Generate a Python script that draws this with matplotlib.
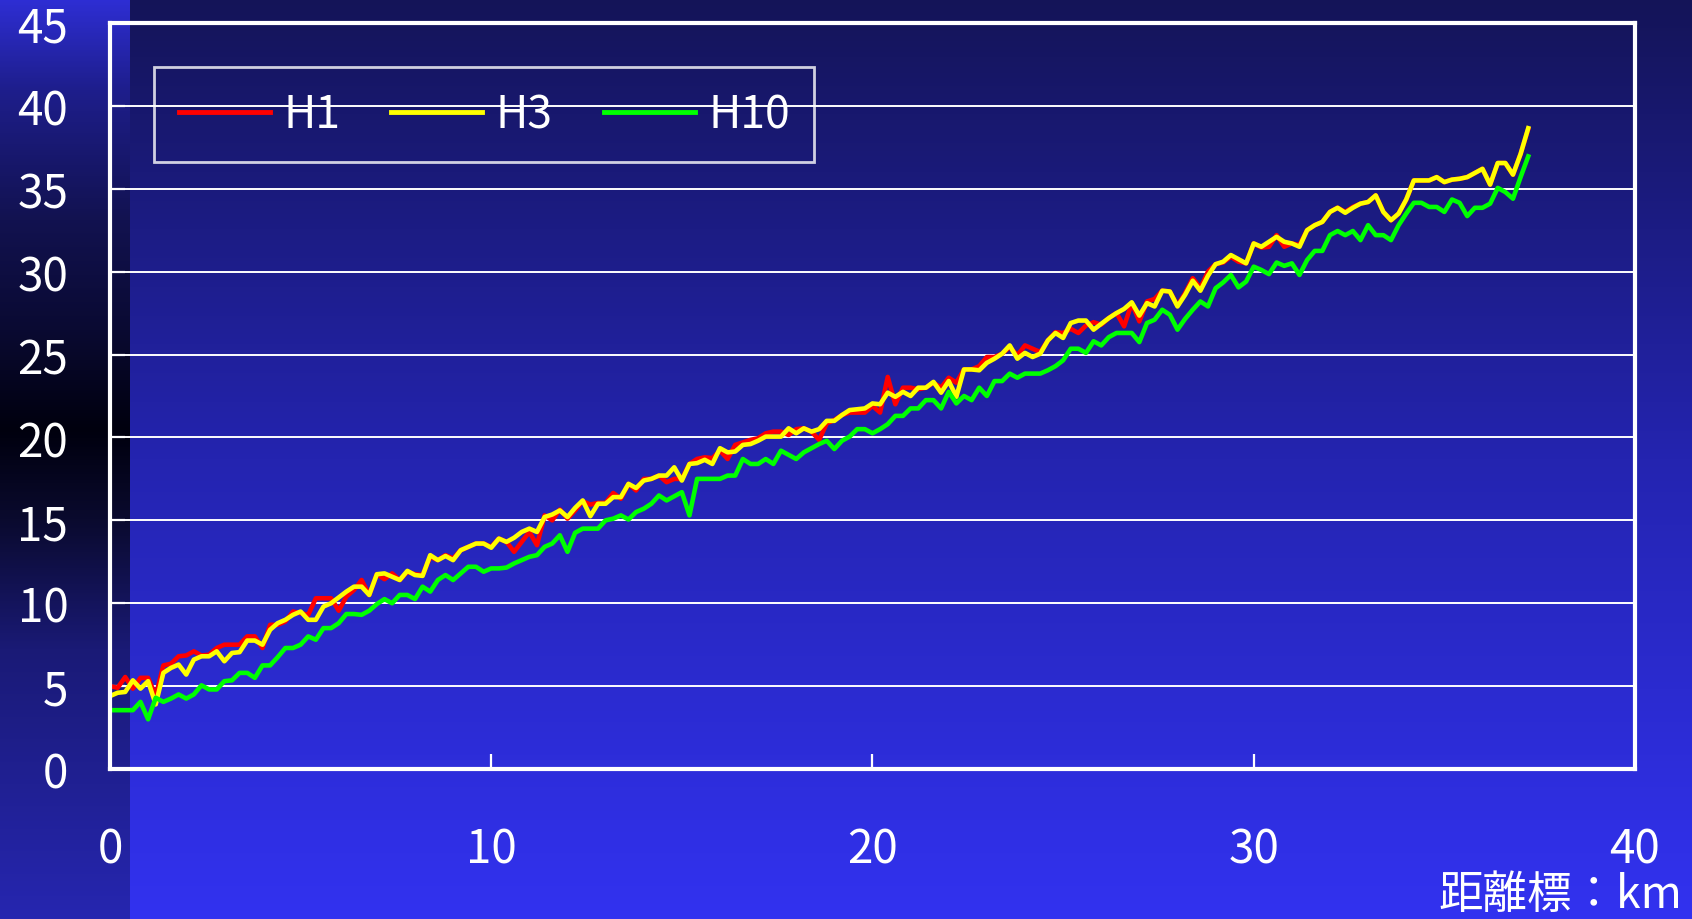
import numpy as np
import matplotlib
matplotlib.use("Agg")
import matplotlib.pyplot as plt

plt.rcParams['font.family'] = ['Noto Sans CJK JP', 'DejaVu Sans']

# 距離標 (km), 0.2 km 間隔
dist = np.round(np.arange(0, 37.21, 0.2), 1)

h1 = [5.0, 4.9, 5.55, 4.85, 5.5, 5.5, 4.4, 6.25, 6.35, 6.8, 6.85, 7.1, 6.85, 6.9, 7.3, 7.5, 7.5,
      7.5, 8.0, 8.0, 7.3, 8.7, 8.7, 8.9, 9.5, 9.4, 9.3, 10.3, 10.3, 10.3, 9.55, 10.4, 10.8,
      11.4, 10.5, 11.75, 11.45, 11.8, 11.4, 11.9, 11.75, 11.7, 12.8, 12.6, 12.9, 12.7, 13.2, 13.4,
      13.6, 13.6, 13.4, 13.9, 13.7, 13.1, 13.7, 14.3, 13.5, 15.3, 15.0, 15.65, 15.1, 15.6, 16.15,
      15.95, 16.05, 16.05, 16.65,
      16.3, 17.2, 16.8, 17.5, 17.5, 17.7, 17.3, 17.5, 17.5, 18.4, 18.7, 18.8, 18.75, 19.2, 18.7,
      19.55, 19.7, 19.85, 19.95, 20.25, 20.35, 20.35, 20.15, 20.5, 20.55, 20.35, 19.85, 20.85,
      21.05, 21.35, 21.5, 21.5, 21.5,
      21.9, 21.5, 23.65, 22.0, 23.0, 23.0, 22.9, 23.0, 23.3, 23.0, 23.6, 23.3, 24.1, 24.1, 24.3,
      24.85, 24.85, 25.05, 25.45, 24.95, 25.55, 25.35, 25.15, 25.85, 26.35, 26.3, 26.55, 26.3,
      26.75, 26.95, 26.8, 27.2, 27.5,
      26.7, 28.1, 27.0, 28.2, 28.35, 28.85, 28.8, 27.95, 28.7, 29.6, 29.0, 30.0, 30.45, 30.55,
      30.9, 30.6, 30.5, 31.7, 31.45, 31.5, 32.2, 31.5, 31.7, 31.6, 32.5, 32.8, 33.0, 33.6, 33.85,
      33.6, 33.9, 34.1,
      34.2, 34.6, 33.6, 33.1, 33.5, 34.35, 35.5, 35.5, 35.5, 35.7, 35.4, 35.55, 35.6, 35.7, 35.95,
      36.2, 35.25, 36.55, 36.55, 35.85, 37.1, 38.6]

h3 = [4.4, 4.6, 4.65, 5.35, 4.85, 5.3, 3.9, 5.8, 6.1, 6.3, 5.7, 6.6, 6.8, 6.8, 7.1, 6.5, 7.0,
      7.05, 7.75, 7.75, 7.5, 8.4, 8.8, 9.0, 9.3, 9.5, 9.0, 9.0, 9.8, 10.0, 10.35, 10.7, 11.0,
      11.0, 10.5, 11.75, 11.8, 11.6, 11.4, 11.95, 11.7, 11.65, 12.9, 12.6, 12.85, 12.6, 13.2, 13.4,
      13.6, 13.6, 13.35, 13.9, 13.7, 13.95, 14.3, 14.5, 14.3, 15.2, 15.35, 15.6, 15.2, 15.75, 16.2,
      15.25, 16.0, 16.0, 16.4,
      16.4, 17.2, 16.95, 17.4, 17.5, 17.7, 17.7, 18.2, 17.4, 18.4, 18.45, 18.65, 18.4, 19.35, 19.1,
      19.15, 19.55, 19.6, 19.8, 20.05, 20.05, 20.05, 20.55, 20.25, 20.55, 20.35, 20.5, 21.0, 21.0,
      21.35, 21.65, 21.7, 21.75,
      22.05, 22.0, 22.7, 22.45, 22.75, 22.5, 23.0, 23.0, 23.35, 22.7, 23.4, 22.45, 24.1, 24.1,
      24.05, 24.5, 24.75, 25.05, 25.55, 24.75, 25.1, 24.85, 25.05, 25.85, 26.3, 26.0, 26.9, 27.05,
      27.05, 26.5, 26.85, 27.2, 27.5,
      27.75, 28.15, 27.35, 28.1, 27.9, 28.85, 28.8, 27.9, 28.6, 29.45, 28.85, 29.75, 30.45, 30.6,
      31.0, 30.75, 30.5, 31.7, 31.5, 31.8, 32.1, 31.8, 31.7, 31.5, 32.5, 32.8, 33.0, 33.6, 33.85,
      33.55, 33.85, 34.1,
      34.2, 34.6, 33.6, 33.1, 33.5, 34.35, 35.5, 35.5, 35.5, 35.7, 35.4, 35.55, 35.6, 35.7, 35.95,
      36.2, 35.25, 36.55, 36.55, 35.85, 37.1, 38.65]

h10 = [3.55, 3.55, 3.55, 3.55, 4.05, 3.0, 4.3, 4.05, 4.25, 4.5, 4.25, 4.5, 5.05, 4.8, 4.8, 5.3,
       5.35, 5.8, 5.8, 5.5, 6.25, 6.25, 6.75, 7.3, 7.3, 7.5, 8.0, 7.8, 8.5, 8.5, 8.8, 9.35, 9.35,
       9.3, 9.55, 9.95, 10.25, 10.0, 10.5, 10.5, 10.25, 11.0, 10.7, 11.4, 11.7, 11.4, 11.8, 12.2,
       12.2, 11.9, 12.1, 12.1, 12.15, 12.4, 12.6, 12.8, 12.9, 13.4, 13.6, 14.1, 13.1, 14.25, 14.5,
       14.5, 14.5, 15.0, 15.1,
       15.3, 15.05, 15.5, 15.7, 16.0, 16.5, 16.2, 16.45, 16.7, 15.3, 17.5, 17.5, 17.5, 17.5, 17.7,
       17.7, 18.7, 18.4, 18.4, 18.7, 18.4, 19.2, 18.95, 18.7, 19.1, 19.35, 19.6, 19.8, 19.3, 19.8,
       20.05, 20.5, 20.5,
       20.25, 20.5, 20.8, 21.3, 21.3, 21.75, 21.75, 22.25, 22.25, 21.75, 22.75, 22.05, 22.5, 22.25,
       23.0, 22.5, 23.4, 23.4, 23.85, 23.6, 23.85, 23.85, 23.85, 24.05, 24.3, 24.65, 25.35, 25.35,
       25.1, 25.8, 25.55, 26.05, 26.3,
       26.3, 26.3, 25.75, 26.9, 27.1, 27.7, 27.4, 26.5, 27.15, 27.7, 28.2, 27.9, 29.0, 29.35, 29.8,
       29.05, 29.4, 30.3, 30.1, 29.85, 30.55, 30.35, 30.5, 29.8, 30.7, 31.25, 31.25, 32.2, 32.45,
       32.2, 32.45, 31.9,
       32.8, 32.2, 32.2, 31.9, 32.8, 33.5, 34.15, 34.15, 33.9, 33.9, 33.6, 34.35, 34.15, 33.35,
       33.85, 33.85, 34.1, 35.05, 34.8, 34.4, 35.7, 36.95]

series = ['H1', 'H3', 'H10']
colors = ['#ff0000', '#ffff00', '#00ff00']
xticks = [0, 10, 20, 30, 40]
yticks = [0, 5, 10, 15, 20, 25, 30, 35, 40, 45]

W, H = 1692, 920
fig = plt.figure(figsize=(W / 100, H / 100), dpi=100)

# 背景のグラデーション
yy = np.arange(H)
main_y = [0, 460, 919]
main_c = np.array([[20, 20, 88], [36, 36, 176], [50, 50, 240]])
strip_y = [0, 90, 220, 330, 430, 520, 650, 919]
strip_c = np.array([[46, 46, 212], [30, 30, 140], [18, 18, 80], [10, 10, 50], [0, 0, 14],
                    [10, 10, 46], [26, 26, 118], [38, 38, 176]])
bg = np.zeros((H, W, 3))
for c in range(3):
    bg[:, :, c] = np.interp(yy, main_y, main_c[:, c])[:, None]
    bg[:, :130, c] = np.interp(yy, strip_y, strip_c[:, c])[:, None]
fig.figimage(bg / 255, 0, 0, origin='upper', zorder=-10)

ax = fig.add_axes([0.065, 0.163, 0.9013, 0.811])
ax.set_facecolor('none')

for name, vals, col in zip(series, [h1, h3, h10], colors):
    ax.plot(dist, vals, color=col, lw=3.3, label=name)

ax.set_xlim(0, 40)
ax.set_ylim(0, 45)
ax.set_xticks(xticks)
ax.set_yticks(yticks)
ax.yaxis.grid(True, color='white', lw=1.4)
ax.set_axisbelow(True)
for s in ax.spines.values():
    s.set_color('white')
    s.set_linewidth(3)
ax.tick_params(axis='both', direction='in', colors='white', length=11, width=1.6,
               labelsize=33)
ax.tick_params(axis='y', pad=30)
ax.tick_params(axis='x', pad=40)

fig.text(0.994, 0.002, '距離標：km', color='white', fontsize=32, ha='right', va='bottom')

leg = ax.legend(loc='upper left', bbox_to_anchor=(0.029, 0.941), ncol=3, fontsize=32,
                frameon=True, fancybox=False, borderaxespad=0, handlelength=2.05,
                handletextpad=0.3, columnspacing=1.15, borderpad=0.55)
leg.get_frame().set_facecolor('none')
leg.get_frame().set_edgecolor('white')
leg.get_frame().set_linewidth(2)
for t in leg.get_texts():
    t.set_color('white')
for ln in leg.get_lines():
    ln.set_linewidth(3.5)

fig.savefig('out.png', dpi=100)
